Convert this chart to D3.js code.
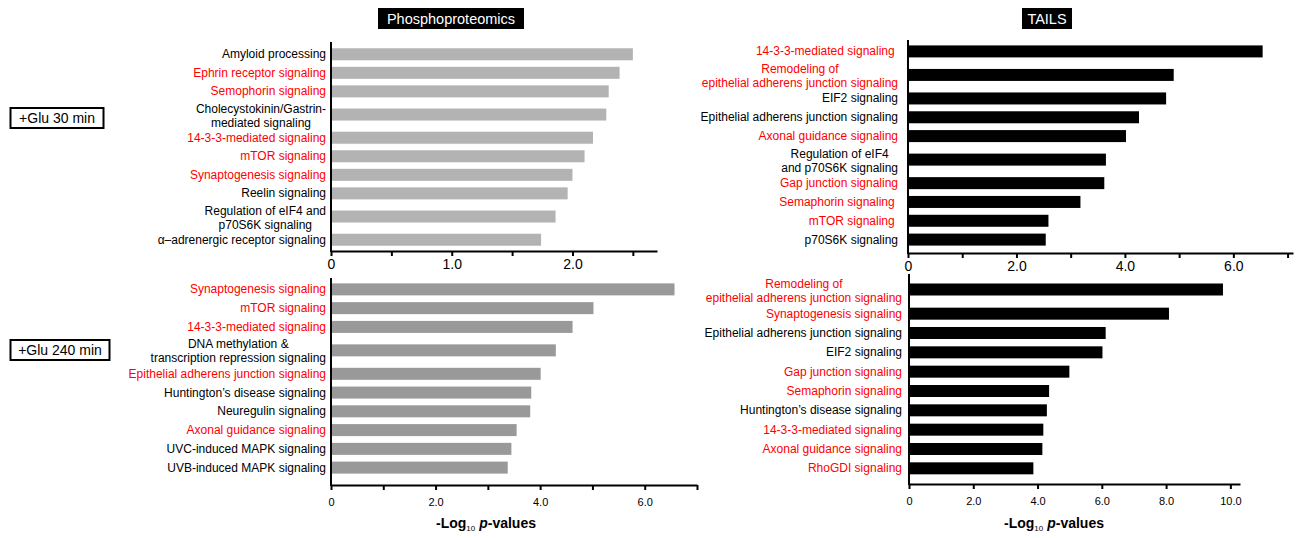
<!DOCTYPE html>
<html>
<head>
<meta charset="utf-8">
<script src="https://cdn.jsdelivr.net/npm/d3@7"></script>
<style>
  body { margin: 0; background: #fff; }
  svg { font-family: "Liberation Sans", Arial, sans-serif; }
</style>
</head>
<body>
<svg id="chart" width="1307" height="538"></svg>
<script>
// Phosphoproteomics, +Glu 30 min
var phospho30Labels = ['Amyloid processing', 'Ephrin receptor signaling', 'Semophorin signaling',
  'Cholecystokinin/Gastrin-\nmediated signaling', '14-3-3-mediated signaling', 'mTOR signaling',
  'Synaptogenesis signaling', 'Reelin signaling', 'Regulation of eIF4 and\np70S6K signaling',
  '\u03b1\u2013adrenergic receptor signaling'];
var phospho30Values = [2.50, 2.39, 2.30, 2.28, 2.17, 2.10, 2.00, 1.96, 1.86, 1.74];
var phospho30Red = [0, 1, 1, 0, 1, 1, 1, 0, 0, 0];

// Phosphoproteomics, +Glu 240 min
var phospho240Labels = ['Synaptogenesis signaling', 'mTOR signaling', '14-3-3-mediated signaling',
  'DNA methylation &\ntranscription repression signaling', 'Epithelial adherens junction signaling',
  'Huntington\u2019s disease signaling', 'Neuregulin signaling', 'Axonal guidance signaling',
  'UVC-induced MAPK signaling', 'UVB-induced MAPK signaling'];
var phospho240Values = [6.57, 5.02, 4.62, 4.30, 4.01, 3.83, 3.81, 3.55, 3.45, 3.38];
var phospho240Red = [1, 1, 1, 0, 1, 0, 0, 1, 0, 0];

// TAILS, +Glu 30 min
var tails30Labels = ['14-3-3-mediated signaling\u00a0', 'Remodeling of\nepithelial adherens junction signaling',
  'EIF2 signaling', 'Epithelial adherens junction signaling', 'Axonal guidance signaling',
  'Regulation of eIF4\nand p70S6K signaling', 'Gap junction signaling', 'Semaphorin signaling\u00a0',
  'mTOR signaling\u00a0', 'p70S6K signaling'];
var tails30Values = [6.54, 4.90, 4.76, 4.26, 4.02, 3.65, 3.62, 3.18, 2.59, 2.54];
var tails30Red = [1, 1, 0, 0, 1, 0, 1, 1, 1, 0];

// TAILS, +Glu 240 min
var tails240Labels = ['Remodeling of\nepithelial adherens junction signaling', 'Synaptogenesis signaling',
  'Epithelial adherens junction signaling', 'EIF2 signaling', 'Gap junction signaling',
  'Semaphorin signaling', 'Huntington\u2019s disease signaling', '14-3-3-mediated signaling',
  'Axonal guidance signaling', 'RhoGDI signaling'];
var tails240Values = [9.77, 8.09, 6.12, 6.02, 4.99, 4.36, 4.29, 4.18, 4.15, 3.87];
var tails240Red = [1, 1, 0, 0, 1, 1, 0, 1, 1, 1];

// Axis ticks
var phospho30Ticks = [0, 0.5, 1, 1.5, 2, 2.5];
var sevenTicks = [0, 1, 2, 3, 4, 5, 6, 7];
var tenTicks = [0, 2, 4, 6, 8, 10];

var svg = d3.select('#chart');

// Panel layout options
var panels = [
  { labels: phospho30Labels, values: phospho30Values, red: phospho30Red, ticks: phospho30Ticks,
    max: 2.7, x0: 331, x1: 657, top: 42, axisY: 251, rowTop: 45, rowBottom: 249, labelGap: 5,
    color: '#b3b3b3', tickFont: 14, tickPad: 3, labelEvery: 1 },
  { labels: phospho240Labels, values: phospho240Values, red: phospho240Red, ticks: sevenTicks,
    max: 7, x0: 331, x1: 697, top: 278, axisY: 485, rowTop: 280, rowBottom: 477, labelGap: 5,
    color: '#999999', tickFont: 11, tickPad: 8, labelEvery: 2 },
  { labels: tails30Labels, values: tails30Values, red: tails30Red, ticks: sevenTicks,
    max: 7.1, x0: 908, x1: 1293, top: 40, axisY: 253, rowTop: 42, rowBottom: 249, labelGap: 10,
    color: '#000', tickFont: 14, tickPad: 3, labelEvery: 2 },
  { labels: tails240Labels, values: tails240Values, red: tails240Red, ticks: tenTicks,
    max: 10.3, x0: 909, x1: 1240, top: 274, axisY: 484, rowTop: 275, rowBottom: 478, labelGap: 7,
    color: '#000', tickFont: 11, tickPad: 8, labelEvery: 2 }
];

var drawPanel = function(p) {
  var g = svg.append('g');
  var x = d3.scaleLinear().domain([0, p.max]).range([p.x0, p.x1]);

  // two-line labels take a taller row
  var weights = p.labels.map(function(l){ return l.indexOf('\n') >= 0 ? 1.5 : 1; });
  var total = d3.sum(weights);
  var y = d3.scaleLinear().domain([0, total]).range([p.rowTop, p.rowBottom]);
  var acc = 0;
  var rows = p.labels.map(function(l, i){
    var c = acc + weights[i] / 2;
    acc += weights[i];
    return { label: l, value: p.values[i], red: p.red[i], cy: y(c) };
  });

  g.selectAll('rect.bar')
    .data(rows)
    .enter()
    .append('rect')
    .attr('class', 'bar')
    .attr('x', x(0))
    .attr('y', function(d){ return d.cy - 6; })
    .attr('width', function(d){ return x(d.value) - x(0); })
    .attr('height', 12)
    .attr('fill', p.color);

  // category labels, multi-line ones centred as a block
  g.selectAll('text.label')
    .data(rows)
    .enter()
    .append('text')
    .attr('class', 'label')
    .attr('text-anchor', 'middle')
    .attr('fill', function(d){ return d.red ? '#ff0000' : '#000'; })
    .style('font-size', '12px')
    .each(function(d){
      var t = d3.select(this);
      var lines = d.label.split('\n');
      var shift = lines.length > 1 ? 1 : 0;
      lines.forEach(function(line, i){
        t.append('tspan')
          .attr('x', 0)
          .attr('y', d.cy + 4 + shift + (i - (lines.length - 1) / 2) * 14)
          .text(line);
      });
      var w = this.getBBox().width;
      t.selectAll('tspan').attr('x', p.x0 - p.labelGap - w / 2);
    });

  // x axis
  var axis = d3.axisBottom(x)
    .tickValues(p.ticks)
    .tickSize(5)
    .tickSizeOuter(0)
    .tickPadding(p.tickPad)
    .tickFormat(function(d){
      if (d % p.labelEvery !== 0) return '';
      return d === 0 ? '0' : d3.format('.1f')(d);
    });
  var ax = g.append('g')
    .attr('transform', 'translate(0,' + p.axisY + ')')
    .call(axis);
  ax.select('.domain').attr('stroke-width', 2);
  ax.selectAll('.tick line').attr('stroke-width', 2);
  ax.selectAll('.tick text')
    .style('font-family', '"Liberation Sans", Arial, sans-serif')
    .style('font-size', p.tickFont + 'px');

  // y axis line
  g.append('line')
    .attr('x1', p.x0).attr('x2', p.x0)
    .attr('y1', p.top).attr('y2', p.axisY + 1)
    .attr('stroke', '#000')
    .attr('stroke-width', 2);
};

panels.forEach(drawPanel);

// Column titles
var titleBox = function(label, cx, w) {
  svg.append('rect')
    .attr('x', cx - w / 2).attr('y', 8)
    .attr('width', w).attr('height', 21)
    .attr('fill', '#000');
  svg.append('text')
    .attr('x', cx).attr('y', 24)
    .attr('text-anchor', 'middle')
    .attr('fill', '#fff')
    .style('font-size', '14.5px')
    .text(label);
};
titleBox('Phosphoproteomics', 451, 146);
titleBox('TAILS', 1047, 50);

// Row titles
var rowBox = function(label, y, w) {
  svg.append('rect')
    .attr('x', 10.5).attr('y', y)
    .attr('width', w).attr('height', 20)
    .attr('fill', '#fff')
    .attr('stroke', '#000')
    .attr('stroke-width', 2);
  svg.append('text')
    .attr('x', 10.5 + w / 2).attr('y', y + 15)
    .attr('text-anchor', 'middle')
    .style('font-size', '14px')
    .text(label);
};
rowBox('+Glu 30 min', 108, 93);
rowBox('+Glu 240 min', 340, 99);

// Axis titles
var axisTitle = function(cx) {
  var t = svg.append('text')
    .attr('x', cx).attr('y', 528)
    .attr('text-anchor', 'middle')
    .style('font-size', '14px')
    .style('font-weight', 'bold');
  t.append('tspan').text('-Log');
  t.append('tspan').attr('dy', 3).style('font-size', '8px').style('font-weight', 'normal').text('10');
  t.append('tspan').attr('dy', -3).text(' ');
  t.append('tspan').style('font-style', 'italic').text('p');
  t.append('tspan').text('-values');
};
axisTitle(486);
axisTitle(1054);
</script>
</body>
</html>
